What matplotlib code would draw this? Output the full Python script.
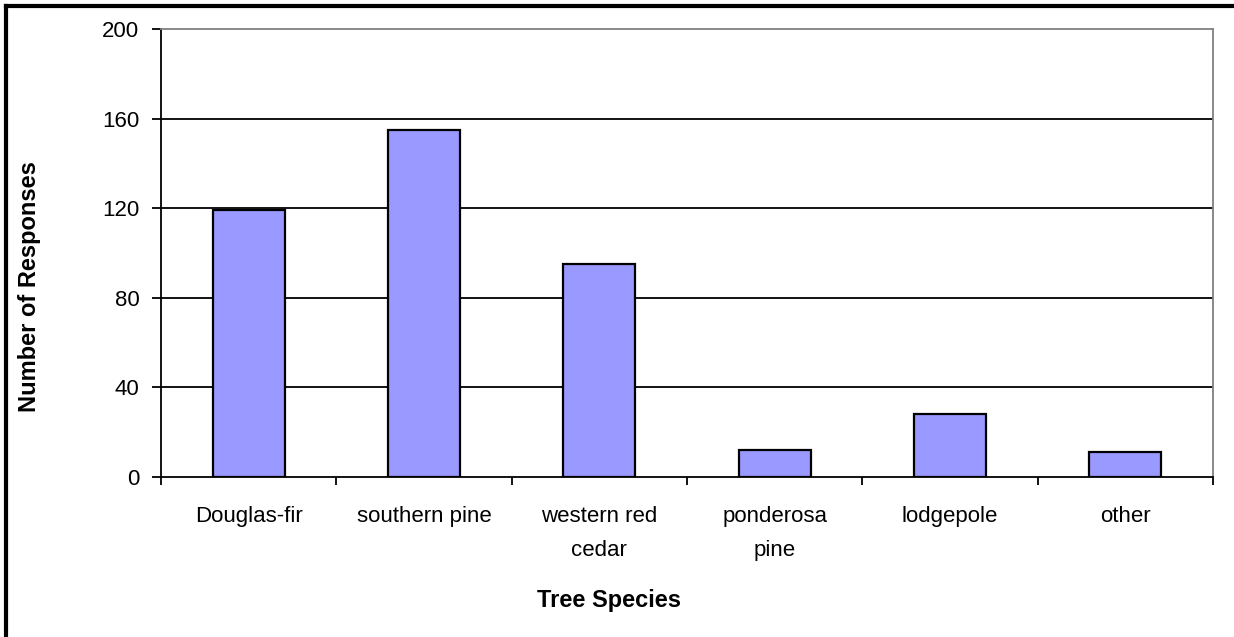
import matplotlib.pyplot as plt
from matplotlib.lines import Line2D
import numpy as np

plt.rcParams['font.family'] = ['Liberation Sans', 'DejaVu Sans']

species = ["Douglas-fir", "southern pine", "western red\ncedar", "ponderosa\npine", "lodgepole", "other"]
responses = [119, 155, 95, 12, 28, 11]
y_ticks = [0, 40, 80, 120, 160, 200]

W, H = 1234, 637
fig = plt.figure(figsize=(W / 100, H / 100), dpi=100)
ax = fig.add_axes([161 / W, (H - 477) / H, (1213 - 161) / W, 448 / H])

x = np.arange(len(species))
ax.bar(x, responses, width=0.41, color='#9999ff', edgecolor='black', linewidth=1.6, zorder=3)

ax.set_xlim(-0.5, len(species) - 0.5)
ax.set_ylim(0, 200)
ax.set_yticks(y_ticks)
ax.set_yticklabels([str(v) for v in y_ticks], fontsize=16)
ax.tick_params(axis='y', direction='out', length=6.5, width=1.3, pad=9)

ax.set_xticks(x)
ax.set_xticklabels(species, fontsize=16, linespacing=1.8, va='top')
ax.tick_params(axis='x', which='major', length=0, pad=21)
ax.set_xticks(np.arange(-0.5, len(species)), minor=True)
ax.tick_params(axis='x', which='minor', direction='out', length=6, width=1.3)

# horizontal gridlines in black, frame top/right in grey
for v in y_ticks[1:-1]:
    ax.axhline(v, color='black', linewidth=1.3, zorder=1)
ax.spines['left'].set_linewidth(1.3)
ax.spines['bottom'].set_linewidth(1.3)
ax.spines['bottom'].set_zorder(4)
ax.spines['top'].set_color('#808080')
ax.spines['right'].set_color('#808080')
ax.spines['top'].set_linewidth(1.3)
ax.spines['right'].set_linewidth(1.3)

fig.text(609 / W, 1 - 600 / H, "Tree Species", fontsize=17, fontweight='bold',
         ha='center', va='center')
fig.text(30 / W, 1 - 287 / H, "Number of Responses", fontsize=17, fontweight='bold',
         ha='center', va='center', rotation=90)

# thick outer border along the left and top
fig.add_artist(Line2D([6 / W, 6 / W], [0, 1 - 6 / H], color='black', linewidth=3, transform=fig.transFigure))
fig.add_artist(Line2D([6 / W, 1], [1 - 6 / H, 1 - 6 / H], color='black', linewidth=3, transform=fig.transFigure))

fig.savefig('out.png', dpi=100)
